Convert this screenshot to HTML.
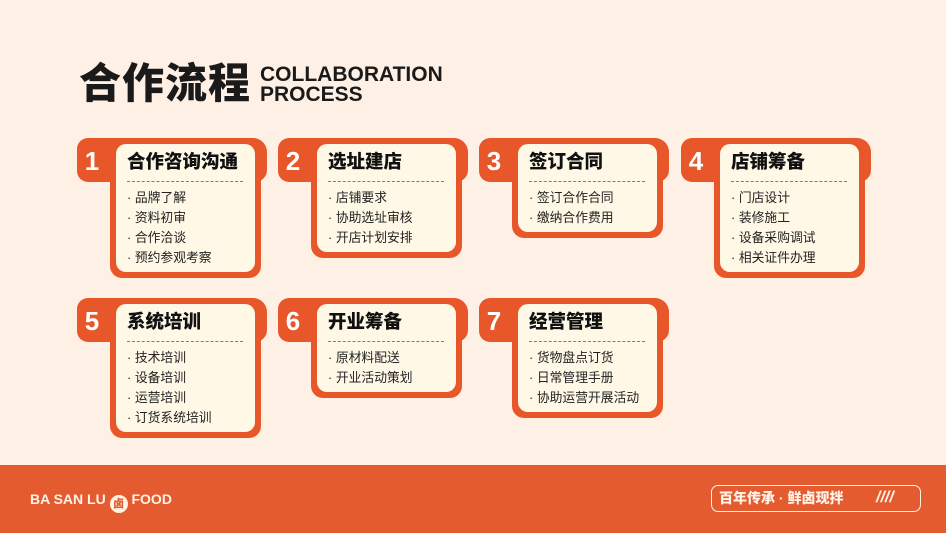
<!DOCTYPE html>
<html><head><meta charset="utf-8"><style>
*{margin:0;padding:0;box-sizing:border-box}
body{width:946px;height:533px;background:#FEF0E4;position:relative;overflow:hidden;font-family:"Liberation Sans","Noto Sans CJK SC",sans-serif}
.card{position:absolute;width:190px}
.band{position:absolute;left:0;top:0;width:190px;height:44px;background:#E8572A;border-radius:11px 14px 12px 11px}
.body{position:absolute;left:33px;top:0;width:151px;background:#E8572A;border-radius:12px}
.in{position:absolute;left:39px;top:6px;width:139px;background:#FFF8E6;border-radius:10px}
.num{position:absolute;left:3px;top:10px;width:24px;text-align:center;color:#fff;font-size:26px;font-weight:900;line-height:26px}
.tt{position:absolute;left:50px;top:13px;font-size:18.5px;font-weight:900;color:#111;line-height:22px;white-space:nowrap}
.dash{position:absolute;left:50px;top:43px;width:116px;border-top:1.3px dashed #E8572A}
.it{position:absolute;left:50px;font-size:12.8px;color:#222;line-height:16px;white-space:nowrap}
</style></head><body>
<div style="position:absolute;left:79px;top:61px;font-size:42px;font-weight:900;color:#1a1a1a;letter-spacing:1px;line-height:46px">合作流程</div>
<div style="position:absolute;left:260px;top:65px;font-size:21px;font-weight:900;color:#1a1a1a;line-height:20px">COLLABORATION<br>PROCESS</div>

<div class="card" style="left:77px;top:138px"><div class="band"></div><div class="body" style="height:140px"></div><div class="in" style="height:128px"></div><div class="num">1</div><div class="tt">合作咨询沟通</div><div class="dash"></div>
<div class="it" style="top:52px">· 品牌了解</div><div class="it" style="top:72px">· 资料初审</div><div class="it" style="top:92px">· 合作洽谈</div><div class="it" style="top:112px">· 预约参观考察</div></div>

<div class="card" style="left:278px;top:138px"><div class="band"></div><div class="body" style="height:120px"></div><div class="in" style="height:108px"></div><div class="num">2</div><div class="tt">选址建店</div><div class="dash"></div>
<div class="it" style="top:52px">· 店铺要求</div><div class="it" style="top:72px">· 协助选址审核</div><div class="it" style="top:92px">· 开店计划安排</div></div>

<div class="card" style="left:479px;top:138px"><div class="band"></div><div class="body" style="height:100px"></div><div class="in" style="height:88px"></div><div class="num">3</div><div class="tt">签订合同</div><div class="dash"></div>
<div class="it" style="top:52px">· 签订合作合同</div><div class="it" style="top:72px">· 缴纳合作费用</div></div>

<div class="card" style="left:681px;top:138px"><div class="band"></div><div class="body" style="height:140px"></div><div class="in" style="height:128px"></div><div class="num">4</div><div class="tt">店铺筹备</div><div class="dash"></div>
<div class="it" style="top:52px">· 门店设计</div><div class="it" style="top:72px">· 装修施工</div><div class="it" style="top:92px">· 设备采购调试</div><div class="it" style="top:112px">· 相关证件办理</div></div>

<div class="card" style="left:77px;top:298px"><div class="band"></div><div class="body" style="height:140px"></div><div class="in" style="height:128px"></div><div class="num">5</div><div class="tt">系统培训</div><div class="dash"></div>
<div class="it" style="top:52px">· 技术培训</div><div class="it" style="top:72px">· 设备培训</div><div class="it" style="top:92px">· 运营培训</div><div class="it" style="top:112px">· 订货系统培训</div></div>

<div class="card" style="left:278px;top:298px"><div class="band"></div><div class="body" style="height:100px"></div><div class="in" style="height:88px"></div><div class="num">6</div><div class="tt">开业筹备</div><div class="dash"></div>
<div class="it" style="top:52px">· 原材料配送</div><div class="it" style="top:72px">· 开业活动策划</div></div>

<div class="card" style="left:479px;top:298px"><div class="band"></div><div class="body" style="height:120px"></div><div class="in" style="height:108px"></div><div class="num">7</div><div class="tt">经营管理</div><div class="dash"></div>
<div class="it" style="top:52px">· 货物盘点订货</div><div class="it" style="top:72px">· 日常管理手册</div><div class="it" style="top:92px">· 协助运营开展活动</div></div>

<div style="position:absolute;left:0;top:465px;width:946px;height:68px;background:#E55B30"></div>
<div style="position:absolute;left:30px;top:491px;color:#FFF3E6;font-size:14px;font-weight:900;line-height:16px;white-space:nowrap">BA SAN LU <span style="display:inline-block;width:18px;height:18px;border-radius:50%;background:#FFF3E6;color:#E55B30;font-size:11px;text-align:center;line-height:18px;vertical-align:-3px">卤</span> FOOD</div>
<div style="position:absolute;left:711px;top:485px;width:210px;height:27px;border:1.5px solid #FFF3E6;border-radius:7px"></div>
<div style="position:absolute;left:719px;top:490px;color:#FFF3E6;font-size:14px;font-weight:900;line-height:17px;white-space:nowrap">百年传承 · 鲜卤现拌</div>
<div style="position:absolute;left:876px;top:489px;color:#FFF3E6;font-size:16px;font-weight:900;font-style:italic;letter-spacing:0px;line-height:18px">////</div>
</body></html>
